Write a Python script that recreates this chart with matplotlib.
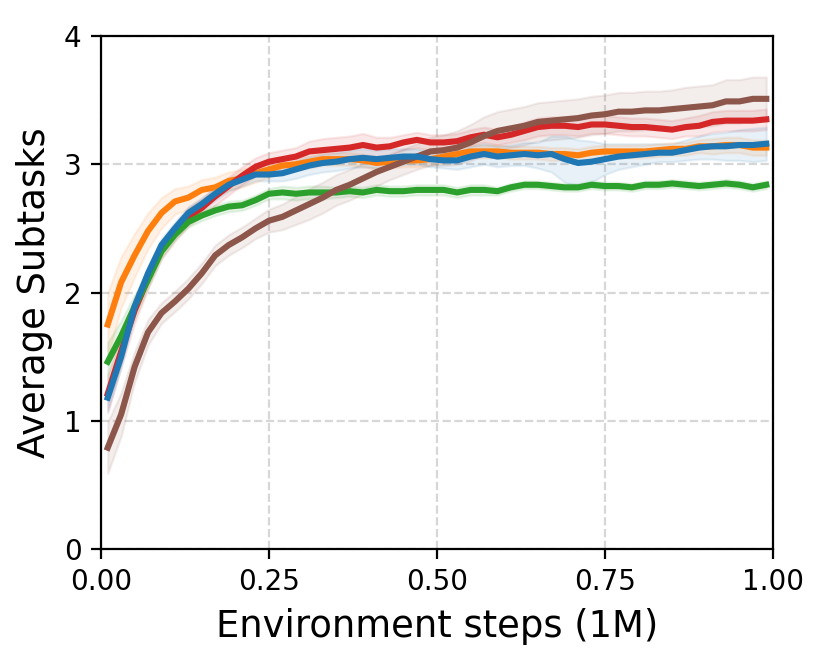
import numpy as np
import matplotlib
matplotlib.use('Agg')
import matplotlib.pyplot as plt

# Environment steps (in millions), sampled every 0.02
steps = [0.01, 0.03, 0.05, 0.07, 0.09, 0.11, 0.13, 0.15, 0.17, 0.19,
         0.21, 0.23, 0.25, 0.27, 0.29, 0.31, 0.33, 0.35, 0.37, 0.39,
         0.41, 0.43, 0.45, 0.47, 0.49, 0.51, 0.53, 0.55, 0.57, 0.59,
         0.61, 0.63, 0.65, 0.67, 0.69, 0.71, 0.73, 0.75, 0.77, 0.79,
         0.81, 0.83, 0.85, 0.87, 0.89, 0.91, 0.93, 0.95, 0.97, 0.99]

orange_mean = [1.75, 2.08, 2.29, 2.48, 2.62, 2.71, 2.74, 2.80, 2.82, 2.87,
               2.89, 2.93, 2.96, 2.99, 3.00, 3.02, 3.04, 3.04, 3.04, 3.03,
               3.01, 3.02, 3.03, 3.03, 3.04, 3.06, 3.08, 3.10, 3.10, 3.10,
               3.09, 3.09, 3.09, 3.08, 3.08, 3.07, 3.09, 3.10, 3.10, 3.10,
               3.10, 3.11, 3.12, 3.12, 3.14, 3.14, 3.15, 3.15, 3.13, 3.13]
orange_std = [0.25, 0.20, 0.17, 0.14, 0.12, 0.10, 0.09, 0.08, 0.08, 0.07,
              0.07, 0.07, 0.06, 0.05, 0.05, 0.05, 0.05, 0.05, 0.05, 0.05,
              0.05, 0.05, 0.05, 0.05, 0.05, 0.05, 0.05, 0.05, 0.05, 0.05,
              0.05, 0.05, 0.05, 0.05, 0.05, 0.05, 0.05, 0.05, 0.05, 0.05,
              0.05, 0.05, 0.05, 0.05, 0.05, 0.06, 0.06, 0.06, 0.06, 0.06]

red_mean = [1.21, 1.54, 1.86, 2.11, 2.33, 2.47, 2.59, 2.66, 2.75, 2.83,
            2.91, 2.98, 3.02, 3.04, 3.06, 3.10, 3.11, 3.12, 3.13, 3.15,
            3.13, 3.14, 3.17, 3.19, 3.17, 3.17, 3.18, 3.21, 3.23, 3.21,
            3.23, 3.26, 3.29, 3.30, 3.30, 3.29, 3.31, 3.31, 3.30, 3.29,
            3.29, 3.28, 3.27, 3.29, 3.30, 3.33, 3.34, 3.34, 3.34, 3.35]
red_std = [0.15, 0.12, 0.10, 0.08, 0.07, 0.07, 0.07, 0.07, 0.07, 0.07,
           0.07, 0.07, 0.07, 0.07, 0.07, 0.08, 0.09, 0.09, 0.09, 0.09,
           0.08, 0.07, 0.06, 0.06, 0.06, 0.06, 0.06, 0.06, 0.06, 0.06,
           0.06, 0.07, 0.07, 0.07, 0.07, 0.07, 0.07, 0.07, 0.07, 0.07,
           0.07, 0.07, 0.07, 0.07, 0.08, 0.08, 0.08, 0.08, 0.08, 0.08]

blue_mean = [1.18, 1.50, 1.89, 2.15, 2.37, 2.50, 2.62, 2.69, 2.77, 2.84,
             2.88, 2.92, 2.92, 2.93, 2.96, 2.99, 3.01, 3.02, 3.04, 3.05,
             3.04, 3.05, 3.06, 3.06, 3.04, 3.03, 3.03, 3.06, 3.08, 3.06,
             3.07, 3.08, 3.07, 3.08, 3.04, 3.01, 3.02, 3.04, 3.06, 3.07,
             3.08, 3.09, 3.09, 3.11, 3.13, 3.14, 3.14, 3.15, 3.15, 3.16]
blue_std = [0.10, 0.08, 0.06, 0.05, 0.05, 0.05, 0.05, 0.05, 0.05, 0.05,
            0.05, 0.05, 0.05, 0.06, 0.07, 0.07, 0.07, 0.07, 0.07, 0.07,
            0.07, 0.07, 0.06, 0.06, 0.06, 0.06, 0.07, 0.08, 0.08, 0.08,
            0.08, 0.09, 0.10, 0.14, 0.18, 0.18, 0.16, 0.12, 0.10, 0.09,
            0.08, 0.07, 0.07, 0.08, 0.09, 0.10, 0.11, 0.12, 0.13, 0.13]

green_mean = [1.46, 1.66, 1.89, 2.10, 2.32, 2.45, 2.55, 2.60, 2.64, 2.67,
              2.68, 2.72, 2.77, 2.78, 2.77, 2.78, 2.78, 2.78, 2.79, 2.78,
              2.80, 2.79, 2.79, 2.80, 2.80, 2.80, 2.78, 2.80, 2.80, 2.79,
              2.82, 2.84, 2.84, 2.83, 2.82, 2.82, 2.84, 2.83, 2.83, 2.82,
              2.84, 2.84, 2.85, 2.84, 2.83, 2.84, 2.85, 2.84, 2.82, 2.84]
green_std = [0.15, 0.12, 0.09, 0.06, 0.05, 0.04, 0.04, 0.04, 0.04, 0.04,
             0.04, 0.04, 0.04, 0.05, 0.05, 0.05, 0.05, 0.04, 0.04, 0.04,
             0.04, 0.04, 0.04, 0.04, 0.04, 0.04, 0.04, 0.04, 0.04, 0.03,
             0.03, 0.03, 0.03, 0.03, 0.03, 0.03, 0.03, 0.03, 0.03, 0.03,
             0.03, 0.03, 0.03, 0.03, 0.03, 0.03, 0.03, 0.03, 0.03, 0.03]

brown_mean = [0.79, 1.05, 1.42, 1.69, 1.84, 1.93, 2.03, 2.15, 2.29, 2.37,
              2.43, 2.50, 2.56, 2.59, 2.64, 2.69, 2.74, 2.80, 2.84, 2.89,
              2.94, 2.98, 3.02, 3.06, 3.10, 3.11, 3.13, 3.17, 3.22, 3.26,
              3.28, 3.30, 3.33, 3.34, 3.35, 3.36, 3.38, 3.39, 3.41, 3.41,
              3.42, 3.42, 3.43, 3.44, 3.45, 3.46, 3.49, 3.49, 3.51, 3.51]
brown_std = [0.20, 0.17, 0.12, 0.10, 0.08, 0.08, 0.08, 0.08, 0.08, 0.08,
             0.08, 0.08, 0.09, 0.10, 0.11, 0.12, 0.12, 0.12, 0.12, 0.12,
             0.11, 0.10, 0.10, 0.10, 0.11, 0.12, 0.13, 0.14, 0.15, 0.15,
             0.15, 0.15, 0.15, 0.15, 0.15, 0.15, 0.15, 0.15, 0.15, 0.15,
             0.15, 0.15, 0.15, 0.16, 0.16, 0.16, 0.17, 0.17, 0.17, 0.17]


def main():
    x = np.array(steps)
    series = [
        (orange_mean, orange_std, 'tab:orange'),
        (red_mean, red_std, 'tab:red'),
        (green_mean, green_std, 'tab:green'),
        (brown_mean, brown_std, 'tab:brown'),
        (blue_mean, blue_std, 'tab:blue'),
    ]

    fig = plt.figure(figsize=(4.15, 3.32), dpi=200)
    ax = fig.add_axes([101 / 830, 1 - 549 / 664, 672 / 830, 513 / 664])

    for mean, std, color in series:
        m = np.array(mean)
        s = np.array(std)
        ax.fill_between(x, m - s, m + s, color=color, alpha=0.1, linewidth=0.8)
        ax.plot(x, m, color=color, linewidth=2.2)

    ax.set_xlim(0, 1.0)
    ax.set_ylim(0, 4)
    ax.set_xticks([0.0, 0.25, 0.5, 0.75, 1.0])
    ax.set_xticklabels(['0.00', '0.25', '0.50', '0.75', '1.00'])
    ax.set_yticks([0, 1, 2, 3, 4])
    ax.tick_params(labelsize=10)
    ax.grid(True, linestyle='--', alpha=0.5)
    ax.set_axisbelow(True)
    ax.set_xlabel('Environment steps (1M)', fontsize=13.3)
    ax.set_ylabel('Average Subtasks', fontsize=13.3)

    fig.savefig('out.png', dpi=200)


if __name__ == '__main__':
    main()
